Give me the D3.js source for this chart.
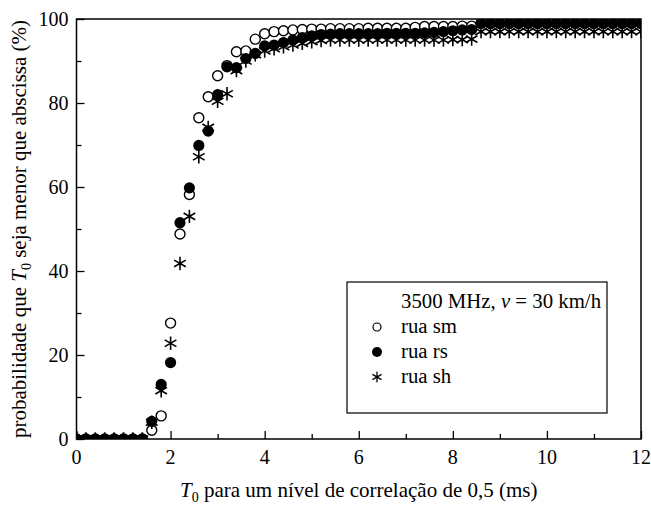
<!DOCTYPE html>
<html>
<head>
<meta charset="utf-8">
<script src="https://cdn.jsdelivr.net/npm/d3@7"></script>
</head>
<body style="margin:0;padding:0;background:#fff">
<svg id="chart" width="651" height="508" style="display:block"></svg>
<script>
// T0 values (ms), sampled every 0.2 ms
const t0 = [
  0.0, 0.2, 0.4, 0.6, 0.8, 1.0, 1.2, 1.4, 1.6, 1.8,
  2.0, 2.2, 2.4, 2.6, 2.8, 3.0, 3.2, 3.4, 3.6, 3.8,
  4.0, 4.2, 4.4, 4.6, 4.8, 5.0, 5.2, 5.4, 5.6, 5.8,
  6.0, 6.2, 6.4, 6.6, 6.8, 7.0, 7.2, 7.4, 7.6, 7.8,
  8.0, 8.2, 8.4, 8.6, 8.8, 9.0, 9.2, 9.4, 9.6, 9.8,
  10.0, 10.2, 10.4, 10.6, 10.8, 11.0, 11.2, 11.4, 11.6, 11.8,
  12.0
];

// Cumulative probability (%) per street
const ruaSm = [
  0, 0, 0, 0, 0, 0, 0, 0, 2.1, 5.5,
  27.6, 48.8, 58.2, 76.5, 81.5, 86.5, 88.9, 92.2, 92.4, 95.2,
  96.5, 97.0, 97.2, 97.4, 97.5, 97.6, 97.6, 97.7, 97.7, 97.7,
  97.7, 97.8, 97.8, 97.8, 97.8, 97.8, 98.0, 98.2, 98.2, 98.2,
  98.2, 98.3, 98.3, 99.0, 99.0, 99.0, 99.0, 99.0, 99.0, 99.0,
  99.0, 99.0, 99.0, 99.0, 99.0, 99.0, 99.0, 99.0, 99.0, 99.0,
  99.0
];
const ruaRs = [
  0, 0, 0, 0, 0, 0, 0, 0, 4.2, 13.0,
  18.2, 51.5, 59.8, 69.9, 73.3, 82.0, 88.6, 88.4, 90.6, 91.8,
  93.6, 93.8, 94.4, 95.0, 95.6, 96.0, 96.3, 96.4, 96.5, 96.5,
  96.5, 96.5, 96.5, 96.6, 96.6, 96.6, 96.6, 96.7, 96.8, 97.0,
  97.2, 97.4, 97.5, 98.9, 98.9, 98.9, 98.9, 98.9, 98.9, 98.9,
  98.9, 98.9, 98.9, 98.9, 98.9, 98.9, 98.9, 98.9, 98.9, 98.9,
  98.9
];
const ruaSh = [
  0, 0, 0, 0, 0, 0, 0, 0, 4.0, 11.5,
  22.8, 41.8, 53.0, 67.2, 74.2, 80.4, 82.2, 87.7, 90.0, 91.5,
  92.4, 92.9, 93.4, 93.8, 94.2, 94.6, 94.9, 95.0, 95.0, 95.0,
  95.0, 95.0, 95.0, 95.0, 95.0, 95.0, 95.0, 95.0, 95.0, 95.0,
  95.1, 95.1, 95.2, 97.0, 97.0, 97.0, 97.0, 97.0, 97.0, 97.0,
  97.0, 97.0, 97.0, 97.0, 97.0, 97.0, 97.0, 97.0, 97.0, 97.0,
  97.0
];

const xTicks = [0, 2, 4, 6, 8, 10, 12];
const yTicks = [0, 20, 40, 60, 80, 100];
const legendTitle = "3500 MHz, ";
const seriesNames = ["rua sm", "rua rs", "rua sh"];

const SERIF = "\"Liberation Serif\"";
const svg = d3.select("#chart");
const L = 76.5, R = 641, T = 19, B = 439;

const x = d3.scaleLinear().domain([0, 12]).range([L, R]);
const y = d3.scaleLinear().domain([0, 100]).range([B, T]);

// all labels use the same serif face
function label(parent, size) {
  return parent.append("text").style("font-family", SERIF).attr("font-size", size);
}

// clip markers to the plotting frame
svg.append("defs").append("clipPath").attr("id", "plotClip")
  .append("rect").attr("x", L).attr("y", T).attr("width", R - L).attr("height", B - T);

// six-armed asterisk symbol
const asterisk = {
  draw(ctx, size) {
    const r = Math.sqrt(size) / 2;
    for (const a of [90, 30, 150]) {
      const rad = a * Math.PI / 180;
      const dx = Math.cos(rad) * r, dy = Math.sin(rad) * r;
      ctx.moveTo(-dx, -dy);
      ctx.lineTo(dx, dy);
    }
  }
};

const pts = svg.append("g").attr("clip-path", "url(#plotClip)");

function drawSeries(values, kind) {
  const data = t0.map((t, i) => [t, values[i]]);
  const g = pts.append("g");
  if (kind === "open") {
    g.selectAll("circle").data(data).join("circle")
      .attr("cx", d => x(d[0])).attr("cy", d => y(d[1])).attr("r", 5)
      .attr("fill", "#fff").attr("stroke", "#000").attr("stroke-width", 1.4);
  } else if (kind === "filled") {
    g.selectAll("circle").data(data).join("circle")
      .attr("cx", d => x(d[0])).attr("cy", d => y(d[1])).attr("r", 5.6)
      .attr("fill", "#000");
  } else {
    g.selectAll("path").data(data).join("path")
      .attr("transform", d => `translate(${x(d[0])},${y(d[1])})`)
      .attr("d", d3.symbol(asterisk, 180)())
      .attr("fill", "none").attr("stroke", "#000").attr("stroke-width", 1.6);
  }
}

drawSeries(ruaSm, "open");
drawSeries(ruaRs, "filled");
drawSeries(ruaSh, "star");

// axes with inward ticks
const tickFont = 20, titleFont = 21;
const xAxis = svg.append("g").attr("transform", `translate(0,${B})`)
  .call(d3.axisBottom(x).tickValues(d3.range(0, 13, 1)).tickSize(-5).tickFormat(""));
xAxis.selectAll(".tick line").filter(d => d % 2 === 0).attr("y2", -8);
xAxis.select(".domain").remove();
xAxis.selectAll(".tick line").attr("stroke", "#000").attr("stroke-width", 1.3);

const xLab = svg.append("g");
xTicks.forEach(d => {
  label(xLab, tickFont).attr("x", x(d)).attr("y", B + 25)
    .attr("text-anchor", "middle").text(d);
});

const yAxis = svg.append("g").attr("transform", `translate(${L},0)`)
  .call(d3.axisLeft(y).tickValues(d3.range(0, 101, 10)).tickSize(-5).tickFormat(""));
yAxis.selectAll(".tick line").filter(d => d % 20 === 0).attr("x2", 8);
yAxis.select(".domain").remove();
yAxis.selectAll(".tick line").attr("stroke", "#000").attr("stroke-width", 1.3);

const yLab = svg.append("g");
yTicks.forEach(d => {
  label(yLab, tickFont).attr("x", L - 8).attr("y", y(d) + 7)
    .attr("text-anchor", "end").text(d);
});

// frame
svg.append("rect").attr("x", L).attr("y", T).attr("width", R - L).attr("height", B - T)
  .attr("fill", "none").attr("stroke", "#000").attr("stroke-width", 1.5);

// axis titles
const xt = label(svg, titleFont).attr("x", (L + R) / 2).attr("y", 497)
  .attr("text-anchor", "middle");
xt.append("tspan").attr("font-style", "italic").text("T");
xt.append("tspan").attr("font-size", 14).attr("dy", 5).text("0");
xt.append("tspan").attr("dy", -5).text(" para um nível de correlação de 0,5 (ms)");

const yt = label(svg, titleFont)
  .attr("transform", `translate(26,${(T + B) / 2}) rotate(-90)`)
  .attr("text-anchor", "middle");
yt.append("tspan").text("probabilidade que ");
yt.append("tspan").attr("font-style", "italic").text("T");
yt.append("tspan").attr("font-size", 14).attr("dy", 5).text("0");
yt.append("tspan").attr("dy", -5).text(" seja menor que abscissa (%)");

// legend
const legendFont = 20.8;
const lg = svg.append("g");
lg.append("rect").attr("x", 347).attr("y", 282).attr("width", 260).attr("height", 131)
  .attr("fill", "#fff").attr("stroke", "#000").attr("stroke-width", 1.2);
const lt = label(lg, legendFont).attr("x", 401).attr("y", 308);
lt.append("tspan").text(legendTitle);
lt.append("tspan").attr("font-style", "italic").text("v");
lt.append("tspan").text(" = 30 km/h");

const rowY = [333, 358, 383];
const kinds = ["open", "filled", "star"];
seriesNames.forEach((name, i) => {
  const cy = rowY[i] - 6;
  if (kinds[i] === "open") {
    lg.append("circle").attr("cx", 377).attr("cy", cy).attr("r", 4)
      .attr("fill", "#fff").attr("stroke", "#000").attr("stroke-width", 1.2);
  } else if (kinds[i] === "filled") {
    lg.append("circle").attr("cx", 377).attr("cy", cy).attr("r", 5).attr("fill", "#000");
  } else {
    lg.append("path").attr("transform", `translate(377,${cy})`)
      .attr("d", d3.symbol(asterisk, 110)())
      .attr("fill", "none").attr("stroke", "#000").attr("stroke-width", 1.3);
  }
  label(lg, legendFont).attr("x", 401).attr("y", rowY[i]).text(name);
});
</script>
</body>
</html>
